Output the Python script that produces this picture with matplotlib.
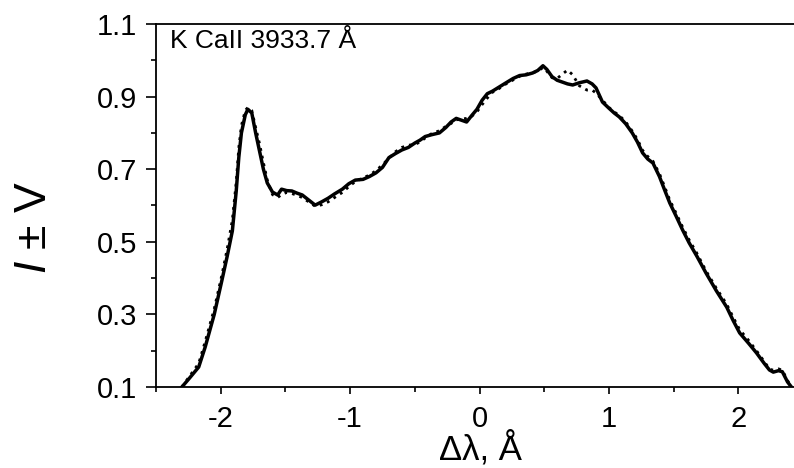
import matplotlib.pyplot as plt
from matplotlib.ticker import MultipleLocator

plt.rcParams['font.family'] = ['Liberation Sans', 'DejaVu Sans']
plt.rcParams['axes.unicode_minus'] = False
plt.rcParams['mathtext.fontset'] = 'custom'
plt.rcParams['mathtext.it'] = 'Liberation Sans:italic'
plt.rcParams['mathtext.rm'] = 'Liberation Sans'

# wavelength offset, Angstrom
dlam = [-2.30, -2.24, -2.17, -2.12, -2.05, -1.99, -1.95, -1.91, -1.88, -1.86,
        -1.84, -1.81, -1.79, -1.76, -1.73, -1.70, -1.67, -1.64, -1.60, -1.56,
        -1.53, -1.49, -1.45, -1.41, -1.37, -1.32, -1.27, -1.22, -1.17, -1.12,
        -1.06, -1.01, -0.96, -0.90, -0.85, -0.80, -0.75, -0.70, -0.65, -0.60,
        -0.55, -0.50, -0.46, -0.42, -0.37, -0.31, -0.26, -0.22, -0.18, -0.14,
        -0.10, -0.06, -0.02, 0.02, 0.06, 0.10, 0.15, 0.20, 0.26, 0.31,
        0.36, 0.41, 0.45, 0.49, 0.52, 0.56, 0.60, 0.64, 0.68, 0.72,
        0.77, 0.83, 0.87, 0.90, 0.95, 1.00, 1.04, 1.08, 1.13, 1.18,
        1.22, 1.26, 1.30, 1.34, 1.39, 1.43, 1.47, 1.52, 1.57, 1.62,
        1.68, 1.75, 1.83, 1.91, 1.96, 2.01, 2.08, 2.14, 2.20, 2.24,
        2.27, 2.31, 2.34, 2.38, 2.41]

# I+V (solid)
i_plus = [0.100, 0.125, 0.155, 0.210, 0.300, 0.395, 0.460, 0.530, 0.640, 0.733,
          0.800, 0.850, 0.865, 0.855, 0.800, 0.750, 0.700, 0.662, 0.637, 0.629,
          0.645, 0.641, 0.640, 0.634, 0.629, 0.615, 0.601, 0.610, 0.620, 0.632,
          0.645, 0.660, 0.670, 0.672, 0.680, 0.690, 0.705, 0.732, 0.743, 0.753,
          0.760, 0.772, 0.780, 0.790, 0.795, 0.800, 0.815, 0.830, 0.840, 0.835,
          0.830, 0.848, 0.865, 0.890, 0.908, 0.915, 0.926, 0.937, 0.950, 0.958,
          0.960, 0.965, 0.972, 0.985, 0.975, 0.955, 0.945, 0.940, 0.935, 0.932,
          0.938, 0.943, 0.935, 0.924, 0.885, 0.868, 0.855, 0.844, 0.825, 0.800,
          0.775, 0.745, 0.728, 0.717, 0.680, 0.643, 0.607, 0.570, 0.532, 0.497,
          0.460, 0.414, 0.365, 0.320, 0.283, 0.249, 0.220, 0.194, 0.165, 0.147,
          0.141, 0.145, 0.142, 0.114, 0.100]

# I-V (dotted)
i_minus = [0.100, 0.130, 0.165, 0.225, 0.315, 0.410, 0.480, 0.560, 0.665, 0.760,
           0.820, 0.862, 0.870, 0.862, 0.815, 0.770, 0.718, 0.670, 0.630, 0.622,
           0.630, 0.636, 0.633, 0.628, 0.622, 0.610, 0.598, 0.602, 0.610, 0.622,
           0.636, 0.652, 0.666, 0.676, 0.684, 0.696, 0.712, 0.730, 0.748, 0.760,
           0.766, 0.768, 0.775, 0.786, 0.798, 0.806, 0.818, 0.826, 0.836, 0.838,
           0.840, 0.846, 0.858, 0.878, 0.896, 0.912, 0.922, 0.934, 0.946, 0.956,
           0.962, 0.966, 0.970, 0.980, 0.970, 0.952, 0.950, 0.962, 0.973, 0.960,
           0.930, 0.918, 0.918, 0.910, 0.890, 0.870, 0.858, 0.848, 0.830, 0.805,
           0.782, 0.752, 0.735, 0.722, 0.688, 0.652, 0.615, 0.578, 0.540, 0.505,
           0.468, 0.420, 0.372, 0.328, 0.292, 0.258, 0.228, 0.200, 0.170, 0.150,
           0.146, 0.150, 0.146, 0.118, 0.100]

fig = plt.figure(figsize=(7.94, 4.68), dpi=100)
ax = fig.add_axes([156 / 794, 81 / 468, 638 / 794, 363 / 468])

ax.plot(dlam, i_plus, color='black', lw=2.5, solid_joinstyle='round')
ax.plot(dlam, i_minus, color='black', lw=2.0, linestyle=(0, (1, 1.8)))

ax.set_xlim(-2.5, 2.43)
ax.set_ylim(0.1, 1.1)
ax.xaxis.set_major_locator(MultipleLocator(1))
ax.xaxis.set_minor_locator(MultipleLocator(0.5))
ax.yaxis.set_minor_locator(MultipleLocator(0.1))
ax.set_yticks([0.1, 0.3, 0.5, 0.7, 0.9, 1.1])
ax.set_yticklabels(['0.1', '0.3', '0.5', '0.7', '0.9', '1.1'])

ax.spines['right'].set_visible(False)
for s in ['left', 'top', 'bottom']:
    ax.spines[s].set_linewidth(1.3)

ax.tick_params(axis='y', which='major', direction='out', length=7, width=1.2,
               pad=6.5, labelsize=21)
ax.tick_params(axis='y', which='minor', direction='out', length=3.5, width=1.2)
ax.tick_params(axis='x', which='major', direction='out', length=5, width=1.2,
               pad=8, labelsize=21)
ax.tick_params(axis='x', which='minor', direction='out', length=3.5, width=1.2)

ax.text(0.022, 0.934, 'K CaII 3933.7 Å', transform=ax.transAxes,
        fontsize=19, va='baseline', ha='left')

fig.text(480 / 794, 9 / 468, 'Δλ, Å', fontsize=25, ha='center', va='baseline')
fig.text(35 / 794, 0.513, r'$I$ ± V', fontsize=32, rotation=90,
         ha='center', va='center')

fig.savefig('out.png', dpi=100)
